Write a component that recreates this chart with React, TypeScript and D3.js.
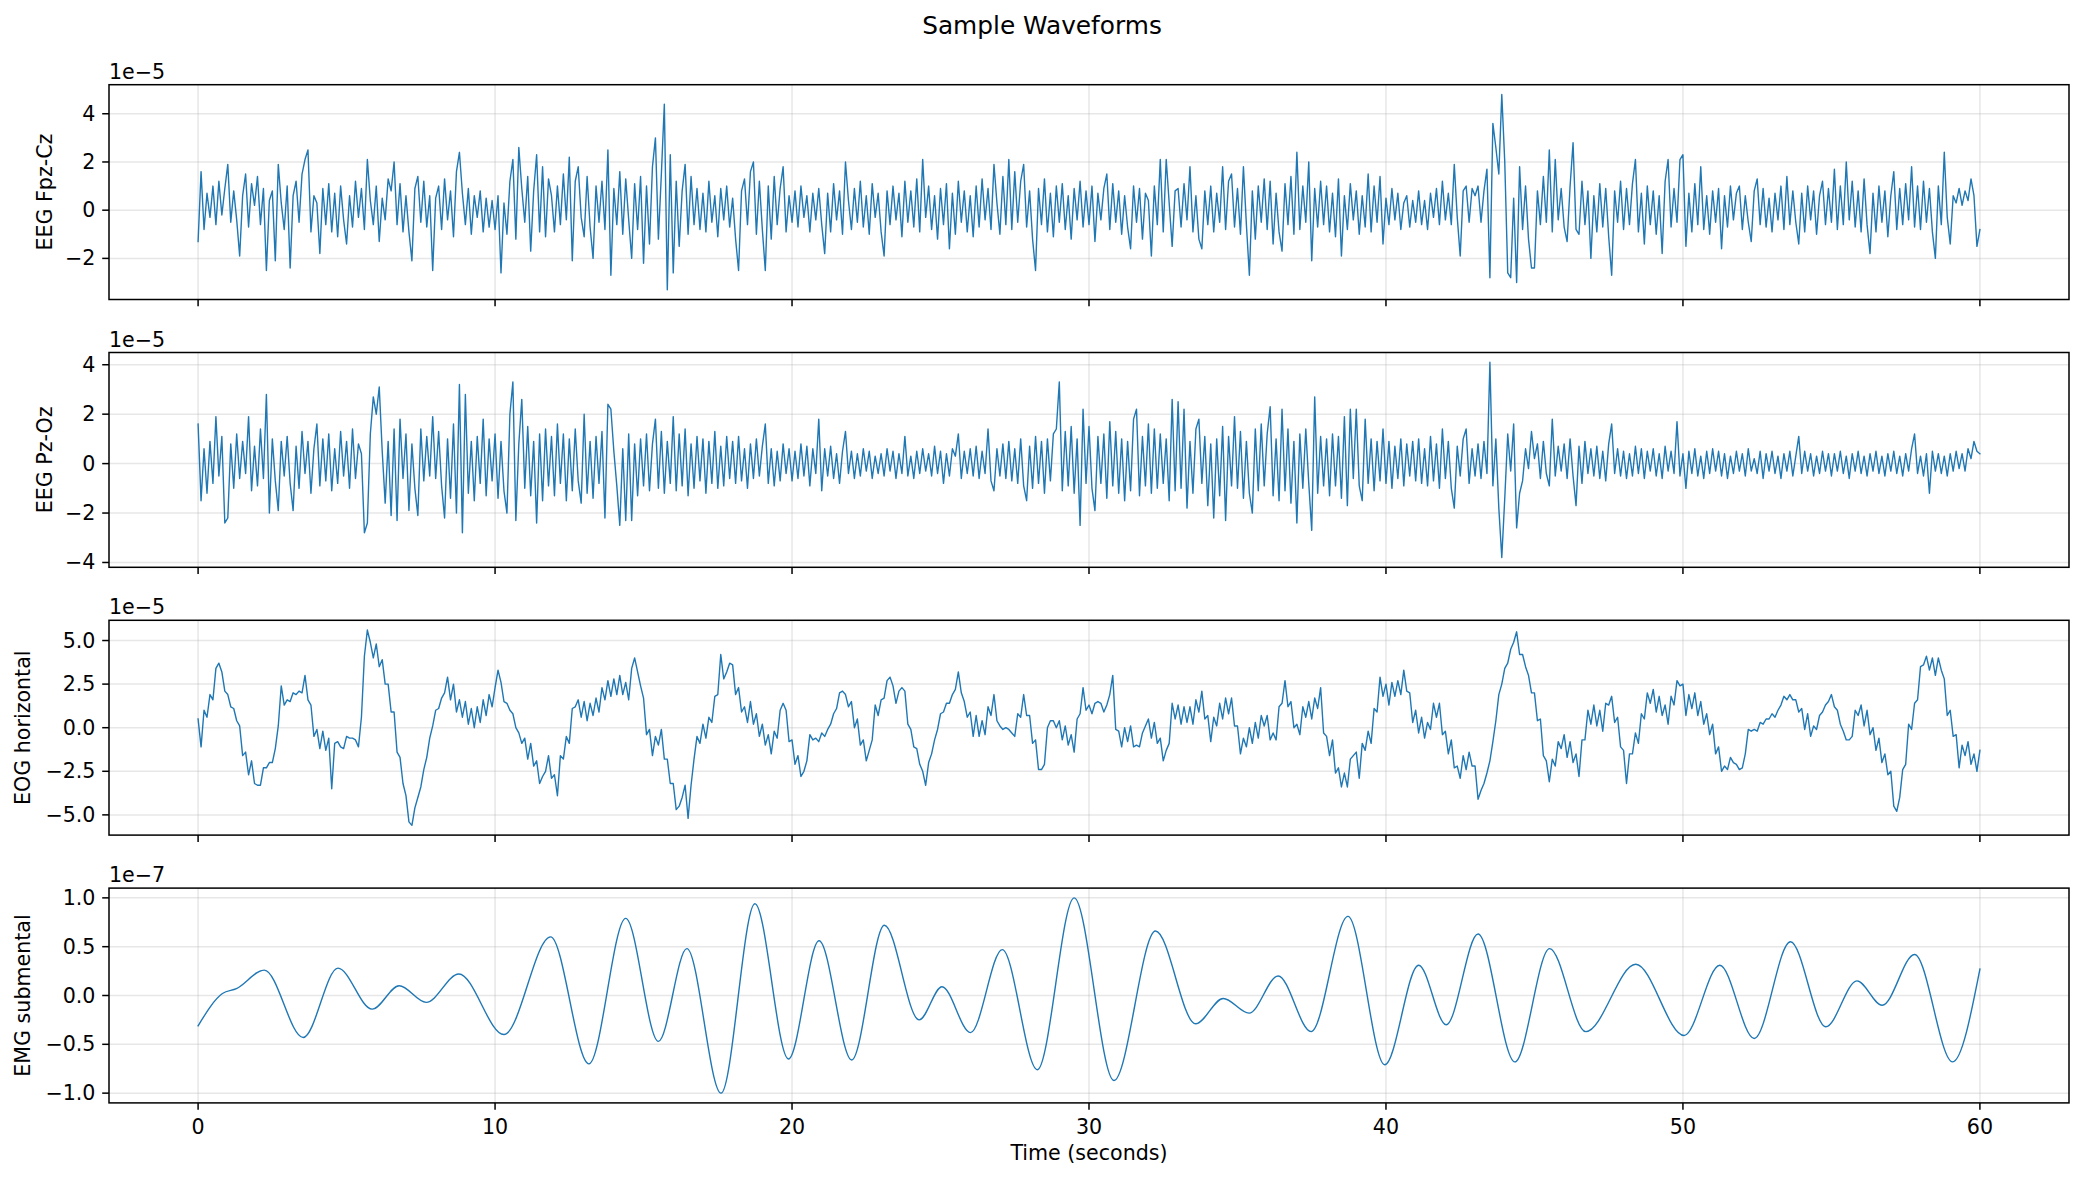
import React from "react";
import * as d3 from "d3";

// ---------------- data ----------------
const TITLE = "Sample Waveforms";
const X_LABEL = "Time (seconds)";
const SAMPLE_STEP_S = 0.1; // seconds between the hand-read samples
const X_TICKS = [0, 10, 20, 30, 40, 50, 60];

// EEG Fpz-Cz, microvolts (1e-6 V), one value every 0.1 s from 0 to 60 s
const EEG_FPZ_CZ_UV = [
  -13, 16, -8, 7, -3, 10, -6, 12, -2, 9,
  19, -5, 8, -4, -19, 6, 15, -7, 11, 2,
  14, -6, 9, -25, 4, 8, -21, 19, 3, -8,
  10, -24, 6, 12, -5, 15, 21, 25, -9, 6,
  3, -18, 9, -6, 11, -9, 7, -11, 10, -4,
  -14, 6, -7, 12, -3, 9, -8, 21, 4, -6,
  10, -13, 5, -4, 13, 8, 20, -6, 11, -9,
  6, -9, -21, 9, 14, -5, 12, -7, 6, -25,
  5, 10, -8, 13, -4, 8, -11, 16, 24, 7,
  -6, 9, -10, 6, -3, 8, -9, 5, -7, 4,
  -8, 6, -26, 3, -10, 12, 21, -12, 26, 9,
  -5, 14, -17, 8, 23, -9, 18, -11, 13, 6,
  -9, 10, -6, 15, -4, 22, -21, 12, 18, -3,
  -11, 14, -7, -20, 10, -5, 12, -8, 25, -27,
  9, -6, 16, -10, 13, -4, -20, 11, -8, 14,
  -22, 10, -14, 18, 30, -12, 15, 44, -33, 23,
  -26, 12, -15, 8, 19, -10, 14, -6, 9, -8,
  7, -9, 12, -5, 6, -11, 9, -4, 10, -7,
  5, -12, -25, 8, 13, -6, 16, 20, -10, 12,
  -8, -25, 10, -12, 14, -6, 9, 18, -9, 6,
  -5, 8, -7, 10, -3, 6, -9, 7, -4, 9,
  -6, -18, 7, -9, 11, -4, 8, -10, 20, 4,
  -8, 9, -5, 12, -7, 6, -10, 11, -3, 7,
  -9, -19, 8, -6, 10, -4, 7, -11, 12, -5,
  8, -7, 13, -9, 21, -3, 10, -8, 6, -12,
  9, -6, 11, -16, 7, -10, 12, -5, 8, -9,
  6, -11, 10, -7, 13, -4, 9, -8, 19, 3,
  -10, 14, -6, 21, -8, 16, -5, 12, 19, -7,
  8, -12, -25, 9, -6, 13, -9, 7, -11, 10,
  -5, 11, -8, 6, -12, 9, -4, 12, -7, 8,
  -6, 10, -13, 7, -4, 9, 15, -8, 11, -5,
  8, -10, 6, -7, -16, 10, -5, 9, -12, 7,
  4, -19, 10, -6, 21, -9, 21, 3, -15, 8,
  9, -7, 11, -4, 18, -9, 6, -12, -16, 8,
  -6, 10, -9, 7, -5, 18, -8, 12, 15, -7,
  9, -10, 18, -6, -27, 8, -12, 10, -5, 13,
  -8, 12, -14, 7, -9, -17, 11, -6, 14, -10,
  24, -8, 10, -5, 20, -21, 9, -7, 12, -6,
  10, -9, 7, -11, 13, -19, 6, -8, 11, -4,
  8, -10, 6, -7, 15, -9, 10, -5, 14, -14,
  5, -6, 9, -4, 7, -8, 3, 6, -7, 4,
  -5, 8, -6, 4, -8, 7, -3, 9, -6, 12,
  -4, 7, -6, 19, -3, -19, 8, 10, -5, 9,
  6, 10, -5, 8, 17, -28, 36, 26, 15, 48,
  20, -26, -28, 5, -30, 18, -8, 10, -12, -24,
  -24, 8, -6, 14, -5, 25, -9, 21, -4, 9,
  -7, -13, 10, 28, -8, -10, 12, -6, 8, -20,
  6, -9, 11, -7, 9, -11, -27, 8, -5, 12,
  -8, 9, -6, 11, 21, -9, 7, -14, 10, -6,
  8, -10, 6, -18, 12, 21, -7, 9, -5, 21,
  23, -15, 7, -9, 11, -6, 18, -8, 6, -10,
  8, -5, 9, -16, 6, -7, 10, -4, 7, 10,
  -8, 6, -5, -13, 8, 13, -6, 9, -7, 5,
  -9, 7, -4, 10, -8, 14, -6, 8, -5, -14,
  7, -9, 10, -4, 8, -10, 6, 12, -6, 9,
  -5, 17, -8, 10, -6, 20, -4, 12, -7, 8,
  -9, 13, -6, -18, 7, -9, 10, -5, 8, -11,
  6, 16, -8, 9, -6, 11, -4, 18, -7, 10,
  -8, 12, -5, 9, -9, -20, 10, -6, 24, -3,
  -14, 6, 3, 9, 2, 8, 4, 13, 6, -15,
  -8,
];

// EEG Pz-Oz, microvolts, every 0.1 s
const EEG_PZ_OZ_UV = [
  16, -15, 6, -12, 9, -8, 19, -5, 11, -24,
  -22, 8, -10, 12, -6, 9, -4, 19, -11, 7,
  -9, 14, -6, 28, -20, 10, -7, -19, 9, -5,
  11, -8, -19, 7, -10, 13, -4, 9, -12, 6,
  16, -9, 10, -7, 12, -11, 6, -8, 13, -5,
  9, -10, 14, -6, 8, 4, -28, -24, 12, 27,
  20, 31, 5, -16, 9, -21, 14, -23, 18, -6,
  12, -19, 8, -10, -21, 14, -7, 11, -5, 19,
  -6, 13, -9, -22, 10, -14, 16, -20, 32, -28,
  28, -12, 9, -15, 11, -8, 18, -13, 10, -7,
  12, -14, 9, -11, -20, 20, 33, -23, 8, 26,
  -10, 15, -13, 9, -24, 12, -15, 14, -9, 11,
  -13, 16, -8, 12, -15, 10, -11, 14, -7, -16,
  20, -12, 9, -14, 11, -8, 13, -22, 24, 22,
  5, -9, -25, 6, -23, 12, -23, 8, -13, 10,
  -9, 12, -11, 8, 18, -10, 13, -12, 9, -8,
  19, -11, 12, -9, 14, -13, 8, -10, 11, -7,
  10, -12, 9, -8, 13, -10, 7, -9, 11, -6,
  9, -8, 11, -7, 6, -10, 8, -6, 10, -5,
  7, 16, -8, 6, -9, 5, -7, 8, -4, 6,
  -7, 5, -6, 8, -5, 7, -9, 6, -4, 18,
  -11, 6, -5, 7, -6, 4, -8, 5, 13, -4,
  5, -6, 4, -5, 6, -3, 5, -6, 3, -4,
  4, -5, 6, -3, 5, -6, 4, -4, 11, -5,
  3, -6, 5, -4, 6, -3, 4, -5, 7, -4,
  5, -8, 4, -5, 6, 3, 12, -6, 5, -4,
  6, -5, 7, -6, 5, -4, 14, -7, -11, 6,
  -5, 8, -6, 9, -7, 6, -8, 10, -9, -15,
  7, -10, 11, -8, 9, -12, 10, -7, 12, 14,
  33, -11, 13, -9, 15, -12, 10, -25, 22, -8,
  15, -10, -19, 11, -8, 12, -14, 17, -9, 13,
  -12, 10, -15, 9, -11, 18, 22, -13, 11, -9,
  16, -12, 14, -10, 12, -8, 10, -15, 26, -11,
  25, -10, 22, -18, 9, -12, 14, 18, -8, 11,
  -17, 8, -22, 10, -13, 15, -23, 11, -9, 19,
  -10, 13, -14, 9, -12, -20, 14, -11, 16, -9,
  12, 23, -13, 10, -15, 22, -11, 14, -16, 9,
  -24, 12, -10, 14, -8, -27, 27, -12, 11, -9,
  10, -13, 12, -9, 11, -14, 19, -17, 22, -6,
  22, -9, -15, 18, -8, 10, -11, 9, -7, 14,
  -8, 9, -10, 7, -6, 10, -9, 8, -5, 9,
  -7, 10, -8, 6, -9, 11, -7, 8, -10, 14,
  -6, 9, -10, -18, 7, -5, 10, 14, -8, 6,
  -5, 8, -6, 9, -4, 41, -9, 10, -18, -38,
  -14, 12, -3, 16, -26, -12, -7, 6, -2, 13,
  2, 8, -6, 9, -4, -9, 18, -5, 7, -3,
  8, -6, 10, -5, -17, 7, -8, 9, -4, 6,
  -5, 7, -6, 5, -7, 8, 16, -4, 6, -5,
  5, -6, 4, -5, 7, -4, 6, -6, 5, -3,
  6, -5, 4, -6, 7, -3, 5, -4, 17, -5,
  4, -10, 5, -4, 6, -5, 3, -6, 5, -4,
  6, -3, 5, -5, 4, -6, 3, -4, 5, -3,
  4, -5, 6, -3, 2, -4, 5, -6, 4, -3,
  5, -4, 3, -6, 4, -3, 5, -5, 3, 11,
  -4, 5, -3, 4, -5, 3, -4, 5, -3, 4,
  -5, 4, -3, 5, -4, 3, -6, 4, -3, 5,
  -4, 3, -5, 4, -3, 5, -4, 3, -5, 4,
  -3, 5, -4, 3, -5, 4, -3, 6, 12, -4,
  3, -5, 4, -12, 5, -3, 4, -4, 3, -5,
  4, -3, 5, -2, 4, -3, 6, 2, 9, 5,
  4,
];

// EOG horizontal, microvolts, every 0.1 s
const EOG_HORIZONTAL_UV = [
  5, -11, 10, 6, 19, 16, 34, 37, 32, 21,
  19, 12, 11, 4, 1, -16, -14, -27, -19, -32,
  -33, -33, -23, -23, -20, -20, -12, 1, 24, 13,
  16, 15, 20, 19, 21, 20, 30, 16, 13, -5,
  -1, -12, -2, -13, -6, -35, -9, -8, -11, -12,
  -5, -6, -6, -7, -11, 6, 41, 56, 49, 40,
  48, 35, 39, 25, 25, 9, 9, -14, -17, -32,
  -39, -54, -56, -46, -40, -34, -24, -17, -6, 1,
  10, 11, 17, 20, 29, 16, 25, 9, 16, 6,
  15, 2, 11, 0, 12, 3, 16, 7, 19, 12,
  23, 33, 26, 15, 14, 10, 8, 0, -3, -9,
  -6, -18, -9, -22, -19, -32, -28, -25, -16, -29,
  -27, -39, -16, -18, -5, -9, 11, 12, 16, 6,
  15, 4, 14, 7, 17, 9, 23, 16, 27, 18,
  28, 19, 30, 19, 26, 16, 34, 40, 32, 24,
  17, -4, -1, -16, -5, -10, -1, -18, -18, -32,
  -32, -47, -45, -40, -33, -52, -33, -18, -5, -9,
  2, -6, 6, 3, 18, 19, 42, 28, 32, 37,
  36, 19, 23, 9, 12, 3, 15, 2, 8, -5,
  2, -10, -4, -15, -2, -6, 10, 14, 10, -8,
  -7, -21, -16, -28, -25, -19, -4, -7, -6, -8,
  -3, -5, -1, 2, 8, 11, 20, 21, 19, 12,
  15, 0, 5, -10, -7, -19, -13, -7, 13, 7,
  16, 17, 27, 29, 24, 14, 21, 23, 21, 2,
  -1, -11, -12, -21, -25, -33, -20, -15, -7, -1,
  8, 9, 14, 14, 19, 22, 32, 20, 15, 6,
  9, -5, 7, -5, 4, -4, 12, 7, 19, 4,
  1, -1, 0, -1, -3, -5, 8, 6, 19, 7,
  7, -9, -7, -24, -24, -21, 0, 4, 4, 0,
  4, -7, 1, -10, -4, -14, 5, 8, 23, 10,
  13, 8, 14, 15, 14, 9, 13, 19, 30, -1,
  -2, -11, 0, -8, 1, -11, -10, -11, -3, 1,
  5, -6, 3, -9, -6, -19, -13, -9, 14, 5,
  13, 2, 12, 3, 12, 2, 16, 9, 21, 5,
  7, -8, 6, 1, 14, 5, 17, 8, 17, 1,
  1, -15, -6, -11, 0, -9, 3, -6, 7, 1,
  7, -7, -3, -7, 12, 14, 27, 12, 15, 0,
  2, -4, 12, 6, 15, 5, 17, 11, 23, -3,
  -5, -16, -7, -26, -23, -34, -26, -34, -18, -16,
  -14, -29, -9, -13, -2, -9, 11, 9, 29, 18,
  25, 13, 26, 18, 27, 19, 33, 21, 20, 3,
  10, -3, 6, -6, 3, -1, 14, 6, 14, -4,
  -2, -15, -7, -23, -22, -29, -16, -24, -14, -22,
  -22, -41, -36, -32, -26, -19, -8, 4, 19, 25,
  34, 37, 45, 49, 55, 42, 42, 35, 30, 20,
  20, 4, 5, -16, -19, -31, -18, -22, -8, -12,
  -4, -17, -8, -20, -15, -28, -7, -7, 10, 2,
  13, 1, 10, -2, 14, 13, 18, 3, 6, -11,
  -13, -32, -15, -15, -3, -9, 8, 5, 20, 14,
  22, 9, 18, 7, 13, 2, 18, 13, 27, 24,
  25, 7, 19, 11, 20, 7, 15, 2, 8, -4,
  2, -15, -11, -25, -22, -24, -17, -20, -21, -24,
  -23, -15, -1, -2, -1, -2, 3, 2, 5, 5,
  8, 6, 10, 13, 18, 16, 19, 16, 16, 9,
  11, -1, 8, -5, 1, -1, 7, 9, 13, 15,
  19, 12, 10, 2, -2, -7, -7, -5, 10, 7,
  13, 1, 10, -4, 0, -13, -6, -20, -15, -27,
  -25, -45, -48, -40, -24, -21, 2, -1, 14, 16,
  35, 36, 41, 33, 40, 30, 40, 33, 28, 7,
  10, -5, -4, -23, -10, -16, -8, -21, -15, -25,
  -13,
];

// EMG submental: turning points (seconds, units of 1e-7 V)
const EMG_TIMES_S = [
  0, 0.82, 1.29, 2.23, 3.54, 4.71, 5.86, 6.77, 7.68, 8.78, 10.3, 11.87, 13.16,
  14.4, 15.5, 16.46, 17.61, 18.75, 19.88, 20.91, 22.01, 23.11, 24.28, 25.05,
  26.01, 27.08, 28.26, 29.5, 30.84, 32.24, 33.59, 34.52, 35.39, 36.37, 37.48,
  38.72, 39.96, 41.1, 42.03, 43.1, 44.34, 45.51, 46.73, 48.41, 50.04, 51.24,
  52.4, 53.62, 54.81, 55.86, 56.71, 57.8, 59.08, 60,
];
const EMG_VALUES_E7 = [
  -0.31, 0.02, 0.07, 0.26, -0.43, 0.28, -0.14, 0.1, -0.07, 0.22, -0.4, 0.6, -0.7,
  0.79, -0.47, 0.48, -1.0, 0.94, -0.65, 0.56, -0.66, 0.72, -0.25, 0.09,
  -0.38, 0.47, -0.76, 1.0, -0.87, 0.66, -0.29, -0.03, -0.18, 0.2, -0.37,
  0.81, -0.71, 0.31, -0.3, 0.63, -0.68, 0.48, -0.37, 0.32, -0.41, 0.31,
  -0.44, 0.55, -0.32, 0.15, -0.1, 0.42, -0.68, 0.27,
];

// y tick values, in units of the offset exponent shown above each panel
const FPZ_TICKS = [-2, 0, 2, 4];
const PZ_TICKS = [-4, -2, 0, 2, 4];
const EOG_TICKS = [-5, -2.5, 0, 2.5, 5];
const EMG_TICKS = [-1, -0.5, 0, 0.5, 1];

type Pt = [number, number];

const sampled = (vals: number[], unit: number): Pt[] =>
  vals.map((v, i) => [i * SAMPLE_STEP_S, v * unit]);

const PANELS = [
  { label: "EEG Fpz-Cz", points: sampled(EEG_FPZ_CZ_UV, 1e-6), exponent: -5, ticks: FPZ_TICKS, fmt: ".0f", smooth: false, labelX: 52 },
  { label: "EEG Pz-Oz", points: sampled(EEG_PZ_OZ_UV, 1e-6), exponent: -5, ticks: PZ_TICKS, fmt: ".0f", smooth: false, labelX: 52 },
  { label: "EOG horizontal", points: sampled(EOG_HORIZONTAL_UV, 1e-6), exponent: -5, ticks: EOG_TICKS, fmt: ".1f", smooth: false, labelX: 30 },
  {
    label: "EMG submental",
    points: EMG_TIMES_S.map((t, i) => [t, EMG_VALUES_E7[i] * 1e-7] as Pt),
    exponent: -7, ticks: EMG_TICKS, fmt: ".1f", smooth: true, labelX: 30,
  },
];

const pad5 = (e: [number, number]): [number, number] => {
  const r = e[1] - e[0];
  return [e[0] - 0.05 * r, e[1] + 0.05 * r];
};

export default function App() {
  const W = 2084;
  const H = 1181;
  const axLeft = 109;
  const axRight = 2069;
  const firstTop = 84.7;
  const rowStep = 267.8;
  const axH = 214.8;
  const fs = 20.6;
  const tickLen = 6.8;
  const tickPad = 6.8;
  const font = "'DejaVu Sans', Verdana, sans-serif";
  const lineColor = "#1f77b4";
  const gridColor = "#b0b0b0";

  const allT = PANELS[0].points.map((d) => d[0]);
  const x = d3
    .scaleLinear()
    .domain(pad5(d3.extent(allT) as [number, number]))
    .range([axLeft, axRight]);

  const lastIdx = PANELS.length - 1;
  const lastBottom = firstTop + lastIdx * rowStep + axH;

  return (
    <svg
      width={W}
      height={H}
      style={{ position: "absolute", left: 0, top: 0, display: "block", background: "#fff" }}
      fontFamily={font}
    >
      <rect x={0} y={0} width={W} height={H} fill="#fff" />
      <text x={W / 2} y={34} textAnchor="middle" fontSize={24.8} fill="#000">
        {TITLE}
      </text>
      {PANELS.map((p, i) => {
        const top = firstTop + i * rowStep;
        const bottom = top + axH;
        const y = d3
          .scaleLinear()
          .domain(pad5(d3.extent(p.points, (d) => d[1]) as [number, number]))
          .range([bottom, top]);
        const gen = d3
          .line<Pt>()
          .x((d) => x(d[0]))
          .y((d) => y(d[1]));
        if (p.smooth) gen.curve(d3.curveMonotoneX);
        const scale = Math.pow(10, p.exponent);
        const f = d3.format(p.fmt);
        const expLabel = "1e" + d3.format("")(p.exponent).replace("-", "\u2212");
        return (
          <g key={p.label}>
            {X_TICKS.map((t) => (
              <line key={"gx" + t} x1={x(t)} x2={x(t)} y1={top} y2={bottom}
                stroke={gridColor} strokeOpacity={0.3} strokeWidth={1.5} />
            ))}
            {p.ticks.map((t) => (
              <line key={"gy" + t} x1={axLeft} x2={axRight} y1={y(t * scale)} y2={y(t * scale)}
                stroke={gridColor} strokeOpacity={0.3} strokeWidth={1.5} />
            ))}
            <path d={gen(p.points) || ""} fill="none" stroke={lineColor} strokeWidth={1.4}
              strokeLinejoin="round" strokeLinecap="square" />
            <rect x={axLeft} y={top} width={axRight - axLeft} height={axH} fill="none"
              stroke="#000" strokeWidth={1.5} />
            {X_TICKS.map((t) => (
              <line key={"tx" + t} x1={x(t)} x2={x(t)} y1={bottom} y2={bottom + tickLen}
                stroke="#000" strokeWidth={1.5} />
            ))}
            {i === lastIdx &&
              X_TICKS.map((t) => (
                <text key={"lx" + t} x={x(t)} y={bottom + tickLen + tickPad + 17} textAnchor="middle"
                  fontSize={fs} fill="#000">
                  {d3.format("d")(t)}
                </text>
              ))}
            {p.ticks.map((t) => (
              <g key={"ty" + t}>
                <line x1={axLeft - tickLen} x2={axLeft} y1={y(t * scale)} y2={y(t * scale)}
                  stroke="#000" strokeWidth={1.5} />
                <text x={axLeft - tickLen - tickPad} y={y(t * scale)} textAnchor="end"
                  dominantBaseline="central" fontSize={fs} fill="#000">
                  {f(t)}
                </text>
              </g>
            ))}
            <text x={axLeft} y={top - 6} fontSize={fs} fill="#000">
              {expLabel}
            </text>
            <text transform={`translate(${p.labelX},${(top + bottom) / 2}) rotate(-90)`}
              textAnchor="middle" fontSize={fs} fill="#000">
              {p.label}
            </text>
          </g>
        );
      })}
      <text x={(axLeft + axRight) / 2} y={lastBottom + 57} textAnchor="middle" fontSize={fs} fill="#000">
        {X_LABEL}
      </text>
    </svg>
  );
}
